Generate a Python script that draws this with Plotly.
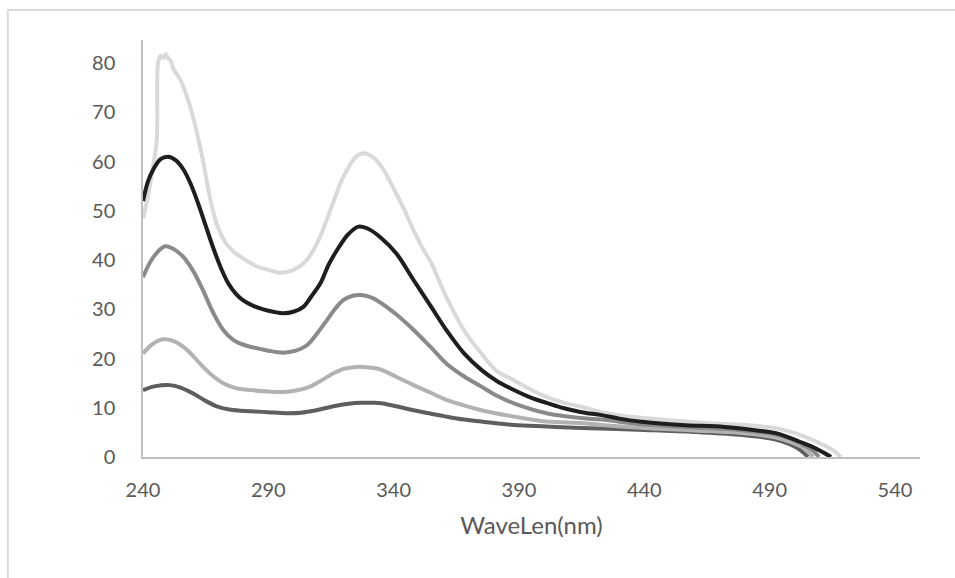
import plotly.graph_objects as go

# ---- data ----
x_dark = [240, 245, 250.8, 255, 260, 265, 269.4, 275, 283, 290, 297, 303, 310, 316, 322, 327, 332, 335, 341, 348, 355, 361, 368, 375, 388, 401, 415, 440, 460, 478, 492, 498, 502, 505.3]
y_dark = [13.6, 14.4, 14.6, 14.1, 12.9, 11.4, 10.3, 9.6, 9.3, 9.1, 8.9, 9.0, 9.6, 10.3, 10.8, 11.0, 11.0, 10.9, 10.3, 9.5, 8.8, 8.2, 7.6, 7.2, 6.5, 6.2, 5.9, 5.5, 5.1, 4.5, 3.6, 2.6, 1.5, 0]

x_lmed = [240, 244, 248, 252, 256, 260, 264, 268, 272, 277, 283, 290, 296, 301, 306.7, 311, 316, 320, 325.4, 330, 334.7, 341, 348, 355, 361, 368, 375, 388, 401, 415, 423, 440, 460, 478, 492, 498, 503, 507.3]
y_lmed = [21.0, 23.0, 23.9, 23.6, 22.4, 20.5, 18.3, 16.4, 15.0, 14.0, 13.6, 13.3, 13.2, 13.5, 14.3, 15.5, 17.0, 17.9, 18.3, 18.2, 17.8, 16.3, 14.6, 13.0, 11.6, 10.5, 9.5, 8.2, 7.2, 6.9, 6.5, 5.9, 5.4, 4.9, 4.0, 3.1, 2.0, 0]

x_med = [240, 244, 248.8, 252, 256, 260, 264, 268, 272, 276, 280, 285.4, 290, 296, 301, 305.4, 309, 313.4, 317, 320, 324, 327, 331, 334, 341, 348, 355, 361, 368, 375, 381, 388, 401, 415, 423, 440, 460, 478, 492, 498, 503, 507, 509.7]
y_med = [36.5, 40.5, 42.8, 42.3, 40.7, 37.8, 33.8, 29.3, 25.8, 23.8, 22.8, 22.1, 21.6, 21.2, 21.6, 22.7, 24.8, 27.8, 30.3, 31.9, 32.8, 32.9, 32.4, 31.6, 29.0, 25.8, 22.2, 19.0, 16.4, 14.3, 12.5, 10.9, 8.9, 7.9, 7.6, 6.6, 6.0, 5.5, 4.6, 3.8, 2.6, 1.4, 0]

x_black = [240, 242, 244, 247, 250, 253, 256, 259, 262, 265, 268, 271, 274, 277, 280, 284, 288, 292, 296, 300, 304, 307, 311, 314, 318, 322, 326, 330, 335, 341, 348, 355, 361, 368, 375, 381, 388, 395, 401, 408, 415, 423, 430, 440, 455, 472, 485, 492, 497, 502, 506, 510, 514.5]
y_black = [52.0, 56.0, 58.3, 60.5, 61.0, 60.3, 58.5, 55.5, 51.5, 47.0, 42.5, 38.5, 35.3, 33.2, 31.8, 30.7, 30.0, 29.5, 29.2, 29.5, 30.5, 32.5, 35.5, 39.0, 42.5, 45.3, 46.8, 46.3, 44.5, 41.4, 35.9, 30.5, 25.8, 21.1, 17.7, 15.5, 13.6, 12.0, 11.0, 9.9, 9.1, 8.5, 7.8, 7.1, 6.5, 6.1, 5.4, 4.9, 4.1, 3.1, 2.3, 1.3, 0]

x_light = [240, 242, 244, 245.5, 246, 247, 248, 249, 250, 251, 252, 255, 258, 261, 264, 267, 270, 273, 276, 280, 285, 290, 295, 300, 305, 310, 315, 320, 325, 328, 332, 336, 340, 344, 348, 352, 355, 361, 368, 375, 381, 388, 395, 401, 408, 415, 423, 430, 440, 465, 480, 492, 497, 501, 505, 510, 515, 518.5]
y_light = [48.5, 53.0, 59.0, 64.5, 80.0, 81.5, 81.0, 81.8, 81.0, 80.5, 79.0, 76.5, 72.5, 67.0, 60.0, 52.0, 46.5, 43.5, 41.8, 40.3, 38.8, 38.0, 37.4, 38.0, 39.8, 44.0, 50.5, 57.0, 61.0, 61.7, 60.8, 58.3, 54.5, 50.5, 46.0, 42.0, 39.4, 32.5, 25.8, 21.0, 17.5, 15.6, 13.6, 12.2, 11.0, 10.2, 9.1, 8.5, 7.9, 6.9, 6.5, 5.9, 5.3, 4.7, 3.9, 2.8, 1.5, 0]

x_ticks = [240, 290, 340, 390, 440, 490, 540]
y_ticks = [0, 10, 20, 30, 40, 50, 60, 70, 80]
x_title = "WaveLen(nm)"

series = [
    (x_dark, y_dark, "#5e5e5e"),
    (x_lmed, y_lmed, "#b2b2b2"),
    (x_med, y_med, "#8a8a8a"),
    (x_light, y_light, "#d9d9d9"),
    (x_black, y_black, "#1e1e1e"),
]

fig = go.Figure()
for xs, ys, col in series:
    fig.add_trace(go.Scatter(x=xs, y=ys, mode="lines",
                             line=dict(color=col, width=4, shape="spline", smoothing=1.0),
                             showlegend=False, hoverinfo="skip"))

font_family = "Lato, 'Open Sans', sans-serif"
fig.update_layout(
    width=955, height=578,
    margin=dict(l=143, r=35, t=40, b=121),
    paper_bgcolor="white", plot_bgcolor="white",
    font=dict(family=font_family, color="#595959", size=20),
    showlegend=False,
    xaxis=dict(range=[240, 550], tickvals=x_ticks, ticktext=[str(v) for v in x_ticks],
               showgrid=False, zeroline=False, showline=True, linecolor="#bfbfbf", linewidth=1.5,
               ticks="", ticklabelstandoff=14,
               title=dict(text=x_title, font=dict(size=24, color="#595959"), standoff=17)),
    yaxis=dict(range=[0, 84.7], tickvals=y_ticks, ticktext=[str(v) for v in y_ticks],
               showgrid=False, zeroline=False, showline=True, linecolor="#bfbfbf", linewidth=1.5,
               ticks="", ticklabelstandoff=22),
    shapes=[dict(type="rect", xref="paper", yref="paper",
                 x0=-0.174, x1=1.2, y0=-0.5, y1=1.072,
                 line=dict(color="#d9d9d9", width=2), fillcolor="rgba(0,0,0,0)", layer="below")],
)

fig.write_html("out.html")
